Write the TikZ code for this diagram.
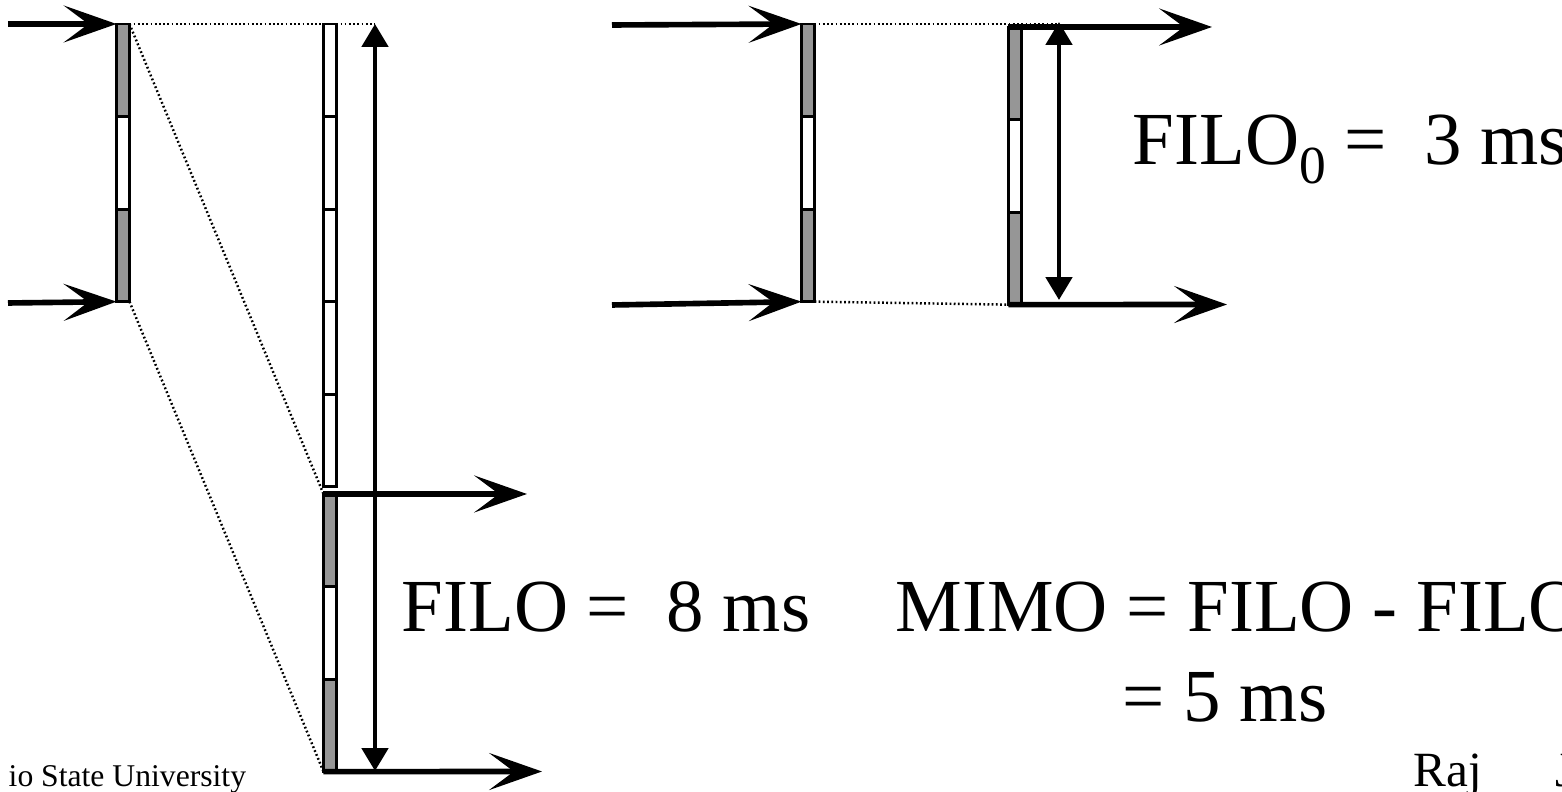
\documentclass[tikz,border=0pt]{standalone}
\usepackage{fontspec}
\setmainfont{Liberation Serif}
\usepackage{tikz}
\usetikzlibrary{positioning, arrows.meta}
\usepackage{xcolor}
\definecolor{slotgray}{RGB}{150,150,150}
\newcommand{\lowidx}[1]{\raisebox{-5.4pt}{\fontsize{15.2}{16}\selectfont #1}}

\tikzset{
  seg/.style={draw, line width=0.8pt, minimum width=0.13cm, minimum height=0.925cm, inner sep=0pt, outer sep=0pt},
  busy/.style={seg, fill=slotgray},
  idle/.style={seg, fill=white},
  inarrow/.style={-{Stealth[length=15pt,width=10.5pt,inset=7pt]}, line width=1.6pt},
  dimarrow/.style={{Triangle[length=6.5pt,width=7.4pt]}-{Triangle[length=6.5pt,width=7.4pt]}, line width=1.3pt},
  dotline/.style={line width=0.7pt, dash pattern=on 0.5pt off 0.7pt},
  big/.style={font=\fontsize{21.3}{24}\selectfont, inner sep=0pt, anchor=base west},
}

\begin{document}
\begin{tikzpicture}[x=0.01cm, y=-0.01cm]
\useasboundingbox (0,0) rectangle (1562,792);
\clip (0,0) rectangle (1562,792);

% left: one frame in, slow switch
\node[busy, anchor=north] at (123,24) (a1) {};
\node[idle, below=0pt of a1] (a2) {};
\node[busy, below=0pt of a2] (a3) {};

\node[idle, anchor=north] at (330,24) (b1) {};
\node[idle, below=0pt of b1] (b2) {};
\node[idle, below=0pt of b2] (b3) {};
\node[idle, below=0pt of b3] (b4) {};
\node[idle, below=0pt of b4] (b5) {};

\node[busy, anchor=north] at (330,494) (c1) {};
\node[idle, below=0pt of c1] (c2) {};
\node[busy, below=0pt of c2] (c3) {};

\coordinate (ina) at (8,24);
\coordinate (inb) at (8,303);
\coordinate (outa) at (527,494);
\coordinate (outb) at (542,771.5);
\coordinate (ftop) at (375,24);
\coordinate (fbot) at (375,771);

\draw[inarrow] (ina) -- (a1.north west);
\draw[inarrow] (inb) -- (a3.south west);
\draw[inarrow] (c1.north west) -- (outa);
\draw[inarrow] (c3.south west) -- (outb);
\draw[dimarrow] (ftop) -- (fbot);
\draw[dotline] (a1.north east) -- (ftop);
\draw[dotline] (a1.north east) -- (c1.north west);
\draw[dotline] (a3.south east) -- (c3.south west);

% right: same frame, no delay
\node[busy, anchor=north] at (808,24) (d1) {};
\node[idle, below=0pt of d1] (d2) {};
\node[busy, below=0pt of d2] (d3) {};

\node[busy, anchor=north] at (1015,27) (e1) {};
\node[idle, below=0pt of e1] (e2) {};
\node[busy, below=0pt of e2] (e3) {};

\coordinate (inc) at (612,25);
\coordinate (ind) at (612,305);
\coordinate (outc) at (1212,27);
\coordinate (outd) at (1227,304.5);
\coordinate (etop) at (1059,22);
\coordinate (ebot) at (1059,300);

\draw[inarrow] (inc) -- (d1.north west);
\draw[inarrow] (ind) -- (d3.south west);
\draw[inarrow] (e1.north west) -- (outc);
\draw[inarrow] (e3.south west) -- (outd);
\draw[dimarrow] (etop) -- (ebot);
\draw[dotline] (d1.north east) -- (etop |- d1.north);
\draw[dotline] (d3.south east) -- (e3.south west);

% labels
\node[big] at (1132,165) (filo0) {FILO\lowidx{0} = \ 3 ms};
\node[big] at (401,632) (filo) {FILO = \ 8 ms};
\node[big] at (895,632) (mimo) {MIMO = FILO - FILO};
\node[big] at (1122,722) (mimores) {= 5 ms};
\node[anchor=base west, inner sep=0pt, font=\fontsize{14}{16}\selectfont] at (1413,787) (author) {Raj\hspace{21pt}J};
\node[anchor=base west, inner sep=0pt, font=\fontsize{9}{11}\selectfont] at (8,787) (univ) {io State University};
\end{tikzpicture}
\end{document}
